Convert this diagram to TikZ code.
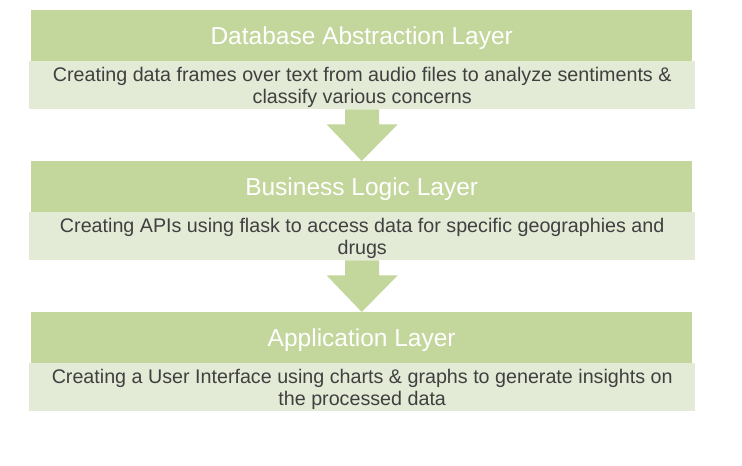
\documentclass[tikz,border=0pt]{standalone}
\usepackage{fontspec}
\setmainfont{Liberation Sans}
\usetikzlibrary{calc}
\definecolor{hdr}{HTML}{C3D69B}
\definecolor{subc}{HTML}{E3EAD6}
\definecolor{txt}{HTML}{404040}
\begin{document}
\begin{tikzpicture}[x=1pt,y=-1pt,
  hdrbox/.style={fill=hdr, draw=none, minimum width=661pt, minimum height=51pt, inner sep=0pt, anchor=north west, text=white, font=\fontsize{24.5}{28}\selectfont, text height=23.5pt, text depth=5.2pt},
  subbox/.style={fill=subc, draw=none, minimum width=666pt, minimum height=48pt, inner sep=0pt, anchor=north west, text=txt, align=center, font=\fontsize{19.7}{22}\selectfont, text height=40pt, text depth=4.2pt},
  blockarrow/.style={fill=hdr, draw=none}]
\useasboundingbox (0,0) rectangle (742,466);
\node[hdrbox] (h1) at (31,10) {Database Abstraction Layer};
\node[subbox] (s1) at (29,61) {Creating data frames over text from audio files to analyze sentiments \&\\classify various concerns};
\node[hdrbox] (h2) at (31,161) {Business Logic Layer};
\node[subbox] (s2) at (29,212) {Creating APIs using flask to access data for specific geographies and\\drugs};
\node[hdrbox] (h3) at (31,312) {Application Layer};
\node[subbox] (s3) at (29,363) {Creating a User Interface using charts \& graphs to generate insights on\\the processed data};
\fill[blockarrow] ($(s1.south)+(-17,0)$) -- ($(s1.south)+(17,0)$) -- ($(s1.south)+(17,15)$) -- ($(s1.south)+(35.5,15)$) -- (h2.north) -- ($(s1.south)+(-35.5,15)$) -- ($(s1.south)+(-17,15)$) -- cycle;
\fill[blockarrow] ($(s2.south)+(-17,0)$) -- ($(s2.south)+(17,0)$) -- ($(s2.south)+(17,15)$) -- ($(s2.south)+(35.5,15)$) -- (h3.north) -- ($(s2.south)+(-35.5,15)$) -- ($(s2.south)+(-17,15)$) -- cycle;
\end{tikzpicture}
\end{document}
